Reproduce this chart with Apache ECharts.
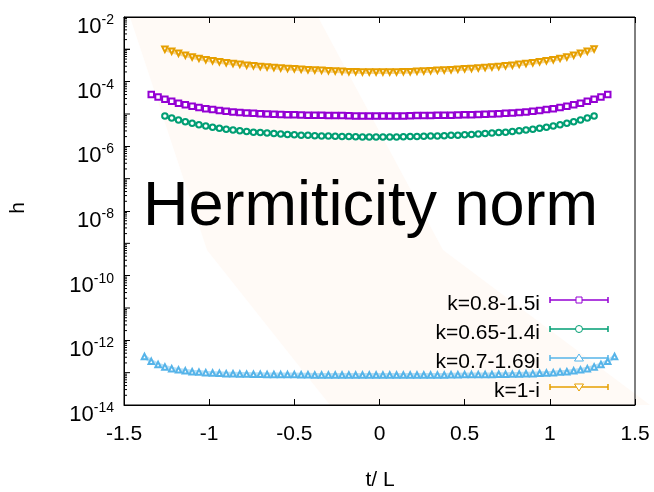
<!DOCTYPE html>
<html><head><meta charset="utf-8">
<script src="https://cdn.jsdelivr.net/npm/echarts@6/dist/echarts.min.js"></script>
<style>html,body{margin:0;padding:0;background:#fff}#c{width:654px;height:492px}</style>
</head><body><div id="c"></div>
<script>
// ---- data ----
const seriesNames = ['k=0.8-1.5i', 'k=0.65-1.4i', 'k=0.7-1.69i', 'k=1-i'];
const xTicks = [-1.5, -1, -0.5, 0, 0.5, 1, 1.5];
const yTickExps = [-14, -12, -10, -8, -6, -4, -2];

const tA = [-1.26,-1.22,-1.18,-1.14,-1.1,-1.06,-1.02,-0.98,-0.94,-0.9,-0.86,-0.82,-0.78,-0.74,-0.7,-0.66,-0.62,-0.58,-0.54,-0.5,-0.46,-0.42,-0.38,-0.34,-0.3,-0.26,-0.22,-0.18,-0.14,-0.1,-0.06,-0.02,
  0.02,0.06,0.1,0.14,0.18,0.22,0.26,0.3,0.34,0.38,0.42,0.46,0.5,0.54,0.58,0.62,0.66,0.7,0.74,0.78,0.82,0.86,0.9,0.94,0.98,1.02,1.06,1.1,1.14,1.18,1.22,1.26];
const tB = [-1.34,-1.3,-1.26,-1.22,-1.18,-1.14,-1.1,-1.06,-1.02,-0.98,-0.94,-0.9,-0.86,-0.82,-0.78,-0.74,-0.7,-0.66,-0.62,-0.58,-0.54,-0.5,-0.46,-0.42,-0.38,-0.34,-0.3,-0.26,-0.22,-0.18,-0.14,-0.1,-0.06,-0.02,
  0.02,0.06,0.1,0.14,0.18,0.22,0.26,0.3,0.34,0.38,0.42,0.46,0.5,0.54,0.58,0.62,0.66,0.7,0.74,0.78,0.82,0.86,0.9,0.94,0.98,1.02,1.06,1.1,1.14,1.18,1.22,1.26,1.3,1.34];
const tC = [-1.38,-1.34,-1.3,-1.26,-1.22,-1.18,-1.14,-1.1,-1.06,-1.02,-0.98,-0.94,-0.9,-0.86,-0.82,-0.78,-0.74,-0.7,-0.66,-0.62,-0.58,-0.54,-0.5,-0.46,-0.42,-0.38,-0.34,-0.3,-0.26,-0.22,-0.18,-0.14,-0.1,-0.06,-0.02,
  0.02,0.06,0.1,0.14,0.18,0.22,0.26,0.3,0.34,0.38,0.42,0.46,0.5,0.54,0.58,0.62,0.66,0.7,0.74,0.78,0.82,0.86,0.9,0.94,0.98,1.02,1.06,1.1,1.14,1.18,1.22,1.26,1.3,1.34,1.38];

// k=0.8-1.5i (on tB)
const hPurple = [3.98e-5,3.35e-5,2.85e-5,2.46e-5,2.16e-5,1.93e-5,1.74e-5,1.59e-5,1.46e-5,1.37e-5,1.29e-5,1.22e-5,1.16e-5,1.12e-5,1.08e-5,1.05e-5,1.02e-5,1.00e-5,9.77e-6,9.66e-6,9.55e-6,9.44e-6,9.33e-6,9.23e-6,9.12e-6,9.12e-6,9.02e-6,8.91e-6,8.91e-6,8.81e-6,8.71e-6,8.71e-6,8.71e-6,8.71e-6,
  8.71e-6,8.71e-6,8.71e-6,8.71e-6,8.81e-6,8.91e-6,8.91e-6,9.02e-6,9.12e-6,9.12e-6,9.23e-6,9.33e-6,9.44e-6,9.55e-6,9.66e-6,9.77e-6,1.00e-5,1.02e-5,1.05e-5,1.08e-5,1.12e-5,1.16e-5,1.22e-5,1.29e-5,1.37e-5,1.46e-5,1.59e-5,1.74e-5,1.93e-5,2.16e-5,2.46e-5,2.85e-5,3.35e-5,3.98e-5];
// k=0.65-1.4i (on tA)
const hGreen = [8.71e-6,7.50e-6,6.53e-6,5.75e-6,5.13e-6,4.62e-6,4.22e-6,3.89e-6,3.63e-6,3.39e-6,3.20e-6,3.02e-6,2.88e-6,2.75e-6,2.66e-6,2.57e-6,2.48e-6,2.40e-6,2.32e-6,2.27e-6,2.21e-6,2.19e-6,2.14e-6,2.09e-6,2.07e-6,2.04e-6,2.02e-6,2.00e-6,1.97e-6,1.95e-6,1.95e-6,1.95e-6,
  1.95e-6,1.95e-6,1.95e-6,1.97e-6,2.00e-6,2.02e-6,2.04e-6,2.07e-6,2.09e-6,2.14e-6,2.19e-6,2.21e-6,2.27e-6,2.32e-6,2.40e-6,2.48e-6,2.57e-6,2.66e-6,2.75e-6,2.88e-6,3.02e-6,3.20e-6,3.39e-6,3.63e-6,3.89e-6,4.22e-6,4.62e-6,5.13e-6,5.75e-6,6.53e-6,7.50e-6,8.71e-6];
// k=0.7-1.69i (on tC)
const hBlue = [3.16e-13,2.24e-13,1.78e-13,1.51e-13,1.33e-13,1.22e-13,1.14e-13,1.07e-13,1.04e-13,1.00e-13,9.77e-14,9.55e-14,9.33e-14,9.23e-14,9.12e-14,9.02e-14,8.91e-14,8.91e-14,8.81e-14,8.81e-14,8.71e-14,8.71e-14,8.71e-14,8.61e-14,8.61e-14,8.51e-14,8.51e-14,8.51e-14,8.51e-14,8.51e-14,8.51e-14,8.51e-14,8.51e-14,8.51e-14,8.51e-14,
  8.51e-14,8.51e-14,8.51e-14,8.51e-14,8.51e-14,8.51e-14,8.51e-14,8.51e-14,8.51e-14,8.51e-14,8.61e-14,8.61e-14,8.71e-14,8.71e-14,8.71e-14,8.81e-14,8.81e-14,8.91e-14,8.91e-14,9.02e-14,9.12e-14,9.23e-14,9.33e-14,9.55e-14,9.77e-14,1.00e-13,1.04e-13,1.07e-13,1.14e-13,1.22e-13,1.33e-13,1.51e-13,1.78e-13,2.24e-13,3.16e-13];
// k=1-i (on tA)
const hOrange = [1.00e-3,8.71e-4,7.59e-4,6.61e-4,5.82e-4,5.25e-4,4.79e-4,4.42e-4,4.12e-4,3.85e-4,3.63e-4,3.43e-4,3.24e-4,3.09e-4,2.95e-4,2.85e-4,2.75e-4,2.66e-4,2.57e-4,2.51e-4,2.43e-4,2.34e-4,2.29e-4,2.24e-4,2.19e-4,2.14e-4,2.09e-4,2.04e-4,2.04e-4,2.00e-4,2.00e-4,2.00e-4,
  2.00e-4,2.00e-4,2.00e-4,2.04e-4,2.04e-4,2.09e-4,2.14e-4,2.19e-4,2.24e-4,2.29e-4,2.34e-4,2.43e-4,2.51e-4,2.57e-4,2.66e-4,2.75e-4,2.85e-4,2.95e-4,3.09e-4,3.24e-4,3.43e-4,3.63e-4,3.85e-4,4.12e-4,4.42e-4,4.79e-4,5.25e-4,5.82e-4,6.61e-4,7.59e-4,8.71e-4,1.02e-3];

// ---- chart ----
const FONT = 'Liberation Sans, Arial, sans-serif';
const colors = ['#9400d3', '#009e73', '#56b4e9', '#e69f00'];
const zip = (xs, ys) => xs.map((x, i) => [x, ys[i]]);

// axis decoration ticks (minor log ticks and unlabeled decades)
const yTickMarks = [];
for (let e = -14; e < -2; e++) {
  if (e % 2 !== 0) yTickMarks.push([-1.5, Math.pow(10, e), 6]);
  for (let m = 2; m <= 9; m++) yTickMarks.push([-1.5, m * Math.pow(10, e), 3]);
}
yTickMarks.push([-1.5, 1e-3, 6]);

const chart = echarts.init(document.getElementById('c'), null, {renderer: 'canvas'});

function mkSeries(name, data, color, symbol, rotate) {
  return {
    name, type: 'line', data, showAllSymbol: true, symbol, symbolSize: 5.5, symbolRotate: rotate || 0,
    lineStyle: {color, width: 4, opacity: 0.4},
    itemStyle: {color, borderColor: color, borderWidth: 1},
    z: 3, animation: false
  };
}

const legendRows = [300, 329, 358, 387];
const legendGraphics = [];
seriesNames.forEach((n, i) => {
  const y = legendRows[i], c = colors[i];
  legendGraphics.push({type: 'text', x: 540, y: y + 4, style: {text: n, fill: '#000', font: '21px ' + FONT, textAlign: 'right', textVerticalAlign: 'middle'}, z: 10});
  legendGraphics.push({type: 'line', shape: {x1: 550, y1: y, x2: 608, y2: y}, style: {stroke: c, lineWidth: 1.5}, z: 10});
  legendGraphics.push({type: 'line', shape: {x1: 550, y1: y - 3, x2: 550, y2: y + 3}, style: {stroke: c, lineWidth: 1.5}, z: 10});
  legendGraphics.push({type: 'line', shape: {x1: 608, y1: y - 3, x2: 608, y2: y + 3}, style: {stroke: c, lineWidth: 1.5}, z: 10});
});
legendGraphics.push({type: 'rect', shape: {x: 576, y: legendRows[0] - 3, width: 6, height: 6}, style: {fill: '#fff', stroke: colors[0], lineWidth: 1}, z: 11});
legendGraphics.push({type: 'circle', shape: {cx: 579, cy: legendRows[1], r: 3.5}, style: {fill: '#fff', stroke: colors[1], lineWidth: 1}, z: 11});
legendGraphics.push({type: 'polygon', shape: {points: [[579, legendRows[2] - 4], [583.5, legendRows[2] + 3], [574.5, legendRows[2] + 3]]}, style: {fill: '#fff', stroke: colors[2], lineWidth: 1}, z: 11});
legendGraphics.push({type: 'polygon', shape: {points: [[579, legendRows[3] + 4], [583.5, legendRows[3] - 3], [574.5, legendRows[3] - 3]]}, style: {fill: '#fff', stroke: colors[3], lineWidth: 1}, z: 11});

const option = {
  backgroundColor: '#fff',
  animation: false,
  textStyle: {fontFamily: FONT},
  grid: {left: 124, right: 19, top: 17, bottom: 87, show: true, borderColor: '#000', borderWidth: 1, backgroundColor: 'transparent'},
  xAxis: [{
    type: 'value', min: -1.5, max: 1.5, interval: 0.5, position: 'bottom',
    axisLine: {show: true, onZero: false, lineStyle: {color: '#000', width: 1}},
    axisTick: {show: true, inside: true, length: 6, lineStyle: {color: '#000'}},
    axisLabel: {show: true, margin: 19, color: '#000', fontSize: 21, fontFamily: FONT, formatter: v => String(v)},
    splitLine: {show: false}
  }, {
    type: 'value', min: -1.5, max: 1.5, interval: 0.5, position: 'top',
    axisLine: {show: true, onZero: false, lineStyle: {color: '#000', width: 1}},
    axisTick: {show: true, inside: true, length: 6, lineStyle: {color: '#000'}},
    axisLabel: {show: false}, splitLine: {show: false}
  }],
  yAxis: {
    type: 'log', logBase: 10, min: 1e-14, max: 1e-2, interval: 2, position: 'left',
    axisLine: {show: true, onZero: false, lineStyle: {color: '#000', width: 1}},
    axisTick: {show: true, inside: true, length: 6, lineStyle: {color: '#000'}},
    minorTick: {show: false},
    splitLine: {show: false},
    axisLabel: {
      show: true, margin: 10, color: '#000',
      formatter: v => '{b|10}{s|' + Math.round(Math.log10(v)) + '}',
      rich: {
        b: {fontSize: 22, fontFamily: FONT, color: '#000', verticalAlign: 'bottom', lineHeight: 30, padding: [0, 0, -6, 0]},
        s: {fontSize: 14, fontFamily: FONT, color: '#000', verticalAlign: 'top', lineHeight: 30, padding: [11, 0, 0, 0]}
      }
    }
  },
  graphic: [
    {type: 'polygon', shape: {points: [[130, 17], [318, 17], [443, 250], [650, 405], [330, 405], [207, 250]]}, style: {fill: '#fffaf6'}, z: -10, silent: true},
    {type: 'text', x: 143, y: 208, style: {text: 'Hermiticity norm', fill: '#000', font: '63px ' + FONT, textVerticalAlign: 'middle'}, z: 9},
    {type: 'text', x: 380, y: 480, style: {text: 't/ L', fill: '#000', font: '21px ' + FONT, textAlign: 'center', textVerticalAlign: 'middle'}},
    {type: 'text', x: 18, y: 208, rotation: Math.PI / 2, style: {text: 'h', fill: '#000', font: '21px ' + FONT, textAlign: 'center', textVerticalAlign: 'middle'}}
  ].concat(legendGraphics),
  series: [
    mkSeries(seriesNames[0], zip(tB, hPurple), colors[0], 'emptyRect'),
    mkSeries(seriesNames[1], zip(tA, hGreen), colors[1], 'emptyCircle'),
    mkSeries(seriesNames[2], zip(tC, hBlue), colors[2], 'emptyTriangle'),
    mkSeries(seriesNames[3], zip(tA, hOrange), colors[3], 'emptyTriangle', 180),
    {
      type: 'custom', silent: true, data: yTickMarks, clip: false, z: 5,
      renderItem: (params, api) => {
        const p = api.coord([api.value(0), api.value(1)]);
        return {type: 'line', shape: {x1: p[0], y1: p[1], x2: p[0] + api.value(2), y2: p[1]}, style: {stroke: '#000', lineWidth: 1}};
      }
    }
  ]
};
chart.setOption(option);
</script></body></html>
